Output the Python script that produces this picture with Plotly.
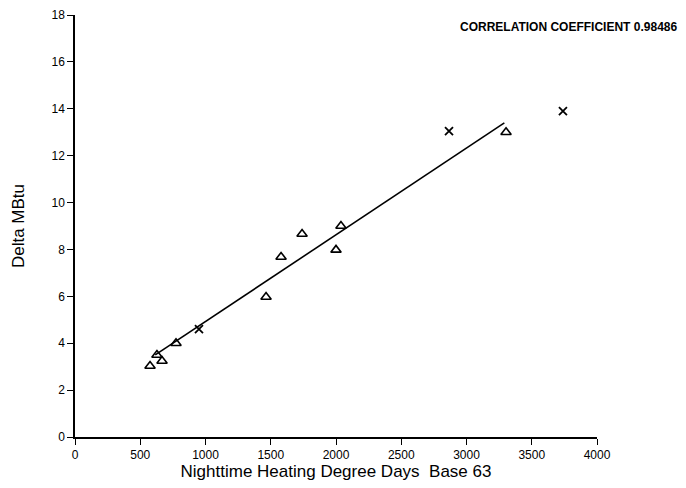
import plotly.graph_objects as go

# Triangle (measured) points
tri_x = [575, 628, 667, 774, 1464, 1579, 1740, 2000, 2038, 3303]
tri_y = [3.03, 3.5, 3.24, 4.0, 5.97, 7.68, 8.66, 7.98, 9.0, 13.0]

# Cross points
crs_x = [950, 2866, 3739]
crs_y = [4.6, 13.05, 13.9]

# Regression line endpoints
line_x = [615, 3290]
line_y = [3.5, 13.4]

x_ticks = [0, 500, 1000, 1500, 2000, 2500, 3000, 3500, 4000]
y_ticks = [0, 2, 4, 6, 8, 10, 12, 14, 16, 18]

fig = go.Figure()
fig.add_trace(go.Scatter(x=line_x, y=line_y, mode="lines",
                         line=dict(color="black", width=1.6), showlegend=False))
fig.add_trace(go.Scatter(x=tri_x, y=tri_y, mode="markers",
                         marker=dict(symbol="triangle-up-open", size=9, color="black",
                                     line=dict(width=1.6, color="black")),
                         showlegend=False))
fig.add_trace(go.Scatter(x=crs_x, y=crs_y, mode="markers",
                         marker=dict(symbol="x-thin-open", size=8, color="black",
                                     line=dict(width=1.8, color="black")),
                         showlegend=False))

fig.update_layout(
    width=678, height=480,
    margin=dict(l=67, r=89, t=7, b=51),
    paper_bgcolor="white", plot_bgcolor="white",
    font=dict(family="Liberation Sans, Arial, sans-serif", color="black"),
    xaxis=dict(range=[0, 4000], tickvals=x_ticks, ticks="outside", ticklen=6,
               tickwidth=1.2, tickcolor="black", showline=True, linecolor="black",
               linewidth=1.5, showgrid=False, zeroline=False, automargin=False,
               tickfont=dict(size=12, family="Liberation Sans, Arial, sans-serif"),
               title=dict(text="Nighttime Heating Degree Days  Base 63",
                          font=dict(size=17), standoff=1)),
    yaxis=dict(range=[0, 18], tickvals=y_ticks, ticks="outside", ticklen=6,
               tickwidth=1.2, tickcolor="black", showline=True, linecolor="black",
               linewidth=1.5, showgrid=False, zeroline=False, automargin=False,
               tickfont=dict(size=12, family="Liberation Sans, Arial, sans-serif"),
               title=dict(text="Delta MBtu", font=dict(size=17), standoff=23)),
    annotations=[dict(text="<b>CORRELATION COEFFICIENT 0.98486</b>",
                      xref="paper", yref="paper", x=1.158, y=0.972,
                      xanchor="right", yanchor="middle", showarrow=False,
                      font=dict(size=12, family="Liberation Sans, Arial, sans-serif"))],
)

fig.write_html("out.html")
